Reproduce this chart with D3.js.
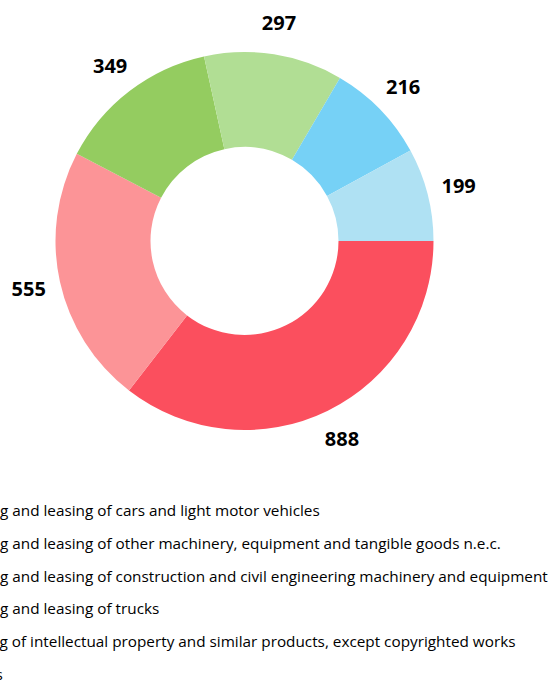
<!DOCTYPE html>
<html>
<head>
<meta charset="utf-8">
<script src="https://cdn.jsdelivr.net/npm/d3@7"></script>
<style>
  body { margin: 0; background: #fff; overflow: hidden; }
  svg { display: block; font-family: "Open Sans", "Noto Sans", sans-serif; }
</style>
</head>
<body>
<svg width="550" height="681"></svg>
<script>
// categories, in slice order (clockwise from 3 o'clock)
const categories = [
  "Renting and leasing of cars and light motor vehicles",
  "Renting and leasing of other machinery, equipment and tangible goods n.e.c.",
  "Renting and leasing of construction and civil engineering machinery and equipment",
  "Renting and leasing of trucks",
  "Leasing of intellectual property and similar products, except copyrighted works",
  "Others"
]
const values = [888, 555, 349, 297, 216, 199]
const colors = ["#fb4f5e", "#fc9497", "#94cc60", "#b1de94", "#76d1f6", "#afe1f3"]

const data = categories.map((c, i) => ({ name: c, value: values[i] }))

const svg = d3.select('svg')
const cx = 244.5, cy = 241
const outer = 189, inner = 94

const color = d3.scaleOrdinal().domain(categories).range(colors)

const pie = d3.pie()
  .value(d => d.value)
  .sort(null)
  .startAngle(Math.PI / 2)
  .endAngle(Math.PI / 2 + 2 * Math.PI)

const arc = d3.arc().innerRadius(inner).outerRadius(outer)
const labelArc = d3.arc().innerRadius(221).outerRadius(221)

const g = svg.append('g').attr('transform', `translate(${cx},${cy})`)

const arcs = pie(data)

g.selectAll('path')
  .data(arcs)
  .join('path')
    .attr('d', arc)
    .attr('fill', d => color(d.data.name))

// value labels outside the ring
g.selectAll('text.val')
  .data(arcs)
  .join('text')
    .attr('class', 'val')
    .attr('transform', d => `translate(${labelArc.centroid(d)})`)
    .attr('text-anchor', 'middle')
    .attr('dy', '0.35em')
    .attr('font-size', 20)
    .attr('font-weight', 700)
    .attr('fill', '#000')
    .text(d => d.value)

// legend, starts off the left edge like the original
const fs = 15.3
const probe = svg.append('text').attr('font-size', fs).text('Rentin')
const shift = probe.node().getComputedTextLength()
probe.remove()

const legend = svg.append('g')
  .selectAll('g')
  .data(categories)
  .join('g')
    .attr('transform', (d, i) => `translate(${-shift},${516 + i * 32.8})`)

legend.append('rect')
  .attr('x', -22)
  .attr('y', -11)
  .attr('width', 14)
  .attr('height', 14)
  .attr('fill', d => color(d))

legend.append('text')
  .attr('font-size', fs)
  .attr('fill', '#000')
  .text(d => d)
</script>
</body>
</html>
